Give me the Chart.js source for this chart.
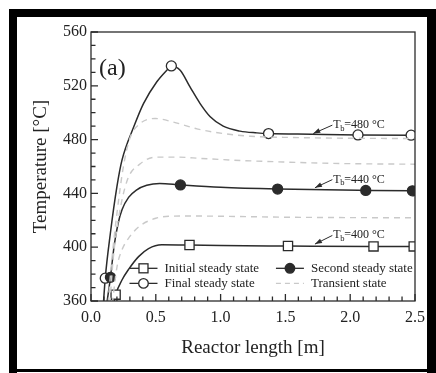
<!DOCTYPE html>
<html>
<head>
<meta charset="utf-8">
<script src="https://cdn.jsdelivr.net/npm/chart.js@4"></script>
<style>
html, body { margin: 0; padding: 0; background: #fff; }
</style>
</head>
<body>
<canvas id="grafico" width="436" height="373"></canvas>
<script>
// estado final (Tb = 480 C)
const comprimentoFinal = [0.09, 0.11, 0.149, 0.2, 0.239, 0.33, 0.405, 0.508, 0.585, 0.62, 0.688, 0.765, 0.842, 0.92, 1.02, 1.15, 1.28, 1.37, 1.7, 2.06, 2.47, 2.5];
const temperaturaFinal = [350, 377, 410, 445, 464.7, 489.5, 506.8, 523, 531.6, 534.8, 531.6, 519, 506.8, 497, 490, 486.3, 485, 484.5, 484, 483.5, 483.3, 483.3];
const marcasFinal = [0.11, 0.62, 1.37, 2.06, 2.47];

// segundo estado estacionario (Tb = 440 C)
const comprimentoSegundo = [0.11, 0.15, 0.18, 0.21, 0.24, 0.29, 0.35, 0.43, 0.53, 0.69, 1.0, 1.44, 2.12, 2.48, 2.5];
const temperaturaSegundo = [350, 377.6, 402, 418, 428, 437, 442.5, 446, 447.4, 446.3, 444.5, 443.2, 442.2, 441.9, 441.9];
const marcasSegundo = [0.15, 0.69, 1.44, 2.12, 2.48];

// estado estacionario inicial (Tb = 400 C)
const comprimentoInicial = [0.175, 0.19, 0.239, 0.29, 0.367, 0.444, 0.547, 0.76, 1.0, 1.52, 2.18, 2.49, 2.5];
const temperaturaInicial = [358, 364.7, 375.6, 383.5, 393, 399, 401.8, 401.6, 401.2, 400.9, 400.6, 400.6, 400.6];
const marcasInicial = [0.19, 0.76, 1.52, 2.18, 2.49];

// estados transientes
const comprimentoTransA = [0.125, 0.16, 0.2, 0.25, 0.3, 0.38, 0.495, 0.636, 0.817, 1.02, 1.23, 1.6, 2.0, 2.5];
const temperaturaTransA = [350, 390, 425, 460, 481, 492, 495.7, 493, 488, 484.5, 482.5, 481.5, 481, 480.8];
const comprimentoTransB = [0.14, 0.17, 0.21, 0.277, 0.38, 0.51, 0.66, 0.85, 1.1, 1.5, 1.87, 2.5];
const temperaturaTransB = [350, 390, 420, 449, 462, 467, 467, 466, 464.7, 463.3, 462.3, 461.7];
const comprimentoTransC = [0.155, 0.2, 0.239, 0.3, 0.38, 0.5, 0.6, 0.8, 1.0, 1.5, 2.0, 2.5];
const temperaturaTransC = [350, 385, 398, 408, 416, 421.5, 423, 423.2, 423, 422.3, 422, 421.9];

// anotacoes Tb
const anotTexto = ["=480 \u00b0C", "=440 \u00b0C", "=400 \u00b0C"];
const anotPontaX = [1.715, 1.728, 1.728];
const anotPontaY = [484.5, 444.2, 402.3];
const anotTextoX = [1.87, 1.87, 1.87];
const anotTextoY = [491.5, 451, 409.5];

const fonte = "'Liberation Serif', 'Times New Roman', serif";
const corLinha = "#2b2b2b";
const corTransiente = "#c9c9c9";

function juntar(xs, ys) {
    return xs.map((x, i) => ({ x: x, y: ys[i] }));
}

function raio(marcas, r) {
    return ctx => {
        const p = ctx.raw;
        if (!p) return 0;
        return marcas.some(m => Math.abs(m - p.x) < 1e-6) ? r : 0;
    };
}

const legenda = [
    { texto: "Initial steady state", estilo: "rect", preench: "#fff", tracejado: false },
    { texto: "Second steady state", estilo: "circle", preench: corLinha, tracejado: false },
    { texto: "Final steady state", estilo: "circle", preench: "#fff", tracejado: false },
    { texto: "Transient state", estilo: null, preench: null, tracejado: true }
];

const moldura = {
    id: "moldura",
    afterDraw(chart) {
        const c = chart.ctx;
        c.save();
        c.fillStyle = "#000";
        c.fillRect(9, 9, 427, 8);
        c.fillRect(9, 9, 8, 364);
        c.fillRect(427, 9, 9, 364);
        c.fillRect(9, 369, 427, 3);
        c.restore();
    }
};

const eixos = {
    id: "eixos",
    afterDatasetsDraw(chart) {
        const c = chart.ctx;
        const a = chart.chartArea;
        const sx = chart.scales.x;
        const sy = chart.scales.y;
        c.save();
        c.strokeStyle = corLinha;
        c.lineWidth = 1.3;
        c.strokeRect(a.left, a.top, a.right - a.left, a.bottom - a.top);
        c.beginPath();
        sy.ticks.forEach(t => {
            const py = sy.getPixelForValue(t.value);
            const maior = Math.abs(t.value % 40) < 1e-6;
            c.moveTo(a.left, py);
            c.lineTo(a.left + (maior ? 7 : 4.5), py);
        });
        sx.ticks.forEach(t => {
            const px = sx.getPixelForValue(t.value);
            const maior = Math.abs(t.value * 2 - Math.round(t.value * 2)) < 1e-6;
            c.moveTo(px, a.bottom);
            c.lineTo(px, a.bottom - (maior ? 7 : 4.5));
        });
        c.stroke();

        // (a)
        c.fillStyle = "#222";
        c.font = "24px " + fonte;
        c.textBaseline = "middle";
        c.fillText("(a)", a.left + 8, sy.getPixelForValue(533));

        // anotacoes Tb
        anotTexto.forEach((txt, i) => {
            const hx = sx.getPixelForValue(anotPontaX[i]);
            const hy = sy.getPixelForValue(anotPontaY[i]);
            const tx = sx.getPixelForValue(anotTextoX[i]);
            const ty = sy.getPixelForValue(anotTextoY[i]);
            const ang = Math.atan2(hy - ty, hx - tx);
            c.strokeStyle = corLinha;
            c.fillStyle = corLinha;
            c.lineWidth = 1;
            c.beginPath();
            c.moveTo(tx - 1, ty + 1);
            c.lineTo(hx, hy);
            c.stroke();
            c.beginPath();
            c.moveTo(hx, hy);
            c.lineTo(hx - 7 * Math.cos(ang) + 2.5 * Math.sin(ang), hy - 7 * Math.sin(ang) - 2.5 * Math.cos(ang));
            c.lineTo(hx - 7 * Math.cos(ang) - 2.5 * Math.sin(ang), hy - 7 * Math.sin(ang) + 2.5 * Math.cos(ang));
            c.closePath();
            c.fill();
            c.fillStyle = "#222";
            c.textBaseline = "alphabetic";
            c.font = "12px " + fonte;
            c.fillText("T", tx, ty + 4);
            const wT = c.measureText("T").width;
            c.font = "8.5px " + fonte;
            c.fillText("b", tx + wT - 0.5, ty + 6.5);
            const wb = c.measureText("b").width;
            c.font = "12px " + fonte;
            c.fillText(txt, tx + wT + wb - 0.8, ty + 4);
        });

        // legenda
        const linhas = [sy.getPixelForValue(384.3), sy.getPixelForValue(373.1)];
        const colunas = [sx.getPixelForValue(0.405), sx.getPixelForValue(1.535)];
        legenda.forEach((item, i) => {
            const cx = colunas[i % 2];
            const cy = linhas[Math.floor(i / 2)];
            c.lineWidth = 1.3;
            c.strokeStyle = item.tracejado ? corTransiente : corLinha;
            c.setLineDash(item.tracejado ? [5, 4] : []);
            c.beginPath();
            c.moveTo(cx - 14, cy);
            c.lineTo(cx + 14, cy);
            c.stroke();
            c.setLineDash([]);
            c.strokeStyle = corLinha;
            if (item.estilo === "rect") {
                c.fillStyle = item.preench;
                c.fillRect(cx - 4.5, cy - 4.5, 9, 9);
                c.strokeRect(cx - 4.5, cy - 4.5, 9, 9);
            } else if (item.estilo === "circle") {
                c.fillStyle = item.preench;
                c.beginPath();
                c.arc(cx, cy, 4.8, 0, Math.PI * 2);
                c.fill();
                c.stroke();
            }
            c.fillStyle = "#222";
            c.font = "13px " + fonte;
            c.textBaseline = "middle";
            c.fillText(item.texto, cx + 21, cy);
        });
        c.restore();
    }
};

function linhaSolida(rotulo, xs, ys, marcas, estilo, preench, r) {
    return {
        label: rotulo,
        data: juntar(xs, ys),
        borderColor: corLinha,
        borderWidth: 1.5,
        pointStyle: estilo,
        pointRadius: raio(marcas, r),
        pointBackgroundColor: preench,
        pointBorderColor: corLinha,
        pointBorderWidth: 1.3,
        cubicInterpolationMode: "monotone",
        fill: false
    };
}

function linhaTransiente(xs, ys) {
    return {
        label: "Transient state",
        data: juntar(xs, ys),
        borderColor: corTransiente,
        borderWidth: 1.4,
        borderDash: [6, 5],
        pointRadius: 0,
        cubicInterpolationMode: "monotone",
        fill: false
    };
}

const grafico = new Chart(document.getElementById("grafico").getContext("2d"), {
    type: "line",
    data: {
        datasets: [
            linhaTransiente(comprimentoTransA, temperaturaTransA),
            linhaTransiente(comprimentoTransB, temperaturaTransB),
            linhaTransiente(comprimentoTransC, temperaturaTransC),
            linhaSolida("Initial steady state", comprimentoInicial, temperaturaInicial, marcasInicial, "rect", "#fff", 6.5),
            linhaSolida("Second steady state", comprimentoSegundo, temperaturaSegundo, marcasSegundo, "circle", corLinha, 5),
            linhaSolida("Final steady state", comprimentoFinal, temperaturaFinal, marcasFinal, "circle", "#fff", 5)
        ]
    },
    options: {
        responsive: false,
        animation: false,
        layout: {
            padding: { left: 17, top: 32, right: 21, bottom: 0 }
        },
        plugins: {
            legend: { display: false },
            tooltip: { enabled: false }
        },
        scales: {
            x: {
                type: "linear",
                min: 0,
                max: 2.5,
                afterFit: s => { s.height = 72; },
                grid: { display: false, drawTicks: false },
                border: { display: false },
                title: {
                    display: true,
                    text: "Reactor length [m]",
                    color: "#222",
                    font: { family: fonte, size: 19 },
                    padding: { top: 4, bottom: 14 }
                },
                ticks: {
                    stepSize: 0.1,
                    autoSkip: false,
                    maxRotation: 0,
                    color: "#222",
                    padding: 7,
                    font: { family: fonte, size: 16 },
                    callback: v => Math.abs(v * 2 - Math.round(v * 2)) < 1e-6 ? v.toFixed(1) : ""
                }
            },
            y: {
                min: 360,
                max: 560,
                afterFit: s => { s.width = 74; },
                grid: { display: false, drawTicks: false },
                border: { display: false },
                title: {
                    display: true,
                    text: "Temperature [\u00b0C]",
                    color: "#222",
                    font: { family: fonte, size: 19 },
                    padding: { top: 13, bottom: 0 }
                },
                ticks: {
                    stepSize: 10,
                    autoSkip: false,
                    color: "#222",
                    padding: 4,
                    font: { family: fonte, size: 16 },
                    callback: v => v % 40 === 0 ? v : ""
                }
            }
        }
    },
    plugins: [moldura, eixos]
});
</script>
</body>
</html>
